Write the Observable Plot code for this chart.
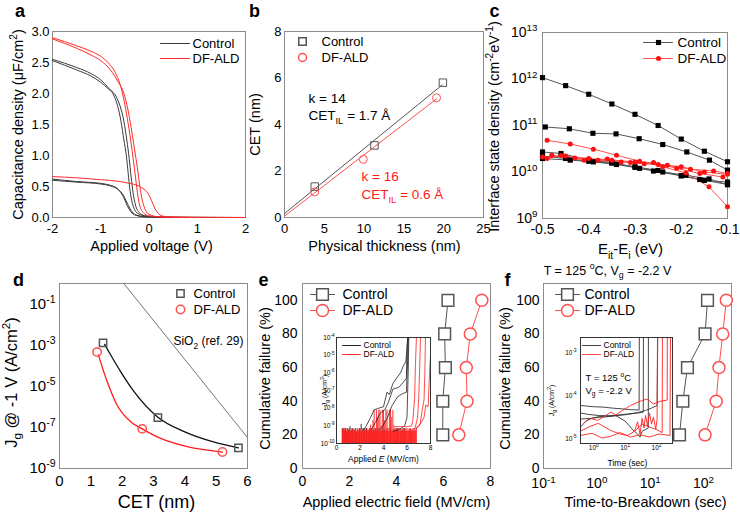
<!DOCTYPE html>
<html><head><meta charset="utf-8">
<script src="https://cdn.jsdelivr.net/npm/d3@7"></script>
<script src="https://cdn.jsdelivr.net/npm/@observablehq/plot@0.6"></script>
<style>
body{margin:0;background:#fff;}
#fig{position:relative;width:740px;height:514px;overflow:hidden;background:#fff;}
#fig svg{position:absolute;overflow:visible;}
</style></head><body><div id="fig"></div>
<script>
// ---------------- shared labels ----------------
const seriesNames = ["Control", "DF-ALD"];

// ---------------- panel a : C-V curves (V, C in uF/cm2) ----------------
const cvCtrlAccA = [[-2,2.55],[-1.5,2.42],[-1.2,2.32],[-1.0,2.22],[-0.85,2.1],[-0.75,2.0],[-0.65,1.8],[-0.58,1.55],[-0.52,1.25],[-0.47,1.0],[-0.43,0.7],[-0.4,0.48],[-0.36,0.28],[-0.3,0.13],[-0.2,0.05],[0,0.015],[0.4,0.005],[0.8,0.002],[2,0]];
const cvCtrlAccB = [[-2,2.53],[-1.5,2.38],[-1.2,2.28],[-1.0,2.18],[-0.85,2.08],[-0.68,1.95],[-0.6,1.8],[-0.52,1.55],[-0.46,1.25],[-0.41,0.95],[-0.37,0.65],[-0.33,0.4],[-0.28,0.2],[-0.2,0.08],[-0.1,0.03],[0.1,0.01],[0.5,0.003],[2,0]];
const cvCtrlInvA = [[-2,0.62],[-1.5,0.58],[-1.0,0.55],[-0.8,0.52],[-0.7,0.49],[-0.62,0.44],[-0.55,0.36],[-0.5,0.28],[-0.45,0.19],[-0.4,0.12],[-0.35,0.07],[-0.25,0.03],[-0.1,0.012],[0.2,0.004],[0.7,0.001],[2,0]];
const cvCtrlInvB = [[-2,0.6],[-1.5,0.57],[-1.0,0.54],[-0.8,0.51],[-0.7,0.48],[-0.62,0.44],[-0.55,0.38],[-0.5,0.31],[-0.45,0.23],[-0.4,0.15],[-0.35,0.09],[-0.25,0.035],[-0.1,0.013],[0.2,0.004],[0.7,0.001],[2,0]];
const cvDfAccA = [[-2,2.9],[-1.5,2.77],[-1.2,2.68],[-1.0,2.6],[-0.85,2.5],[-0.7,2.34],[-0.6,2.15],[-0.52,1.9],[-0.45,1.6],[-0.38,1.25],[-0.32,0.9],[-0.28,0.65],[-0.24,0.4],[-0.2,0.22],[-0.12,0.08],[0,0.025],[0.3,0.006],[0.8,0.002],[2,0]];
const cvDfAccB = [[-2,2.88],[-1.5,2.73],[-1.2,2.62],[-1.0,2.53],[-0.8,2.38],[-0.65,2.2],[-0.52,2.0],[-0.44,1.75],[-0.37,1.45],[-0.3,1.1],[-0.24,0.8],[-0.19,0.5],[-0.14,0.28],[-0.09,0.15],[0,0.05],[0.2,0.012],[0.6,0.003],[2,0]];
const cvDfInv = [[-2,0.66],[-1.5,0.64],[-1.0,0.61],[-0.6,0.58],[-0.4,0.55],[-0.25,0.52],[-0.15,0.48],[-0.05,0.42],[0.02,0.33],[0.08,0.22],[0.14,0.12],[0.2,0.06],[0.3,0.02],[0.5,0.005],[1,0.001],[2,0]];

// ---------------- panel b : CET vs physical thickness ----------------
const thickCtrl = [3.8, 11.3, 19.9];
const cetCtrl = [1.33, 3.1, 5.8];
const thickDf = [3.8, 9.9, 19.1];
const cetDf = [1.1, 2.5, 5.15];
const fitCtrlB = [[0, 0.17], [19.8, 5.7]];
const fitDfB = [[0, 0.06], [19.1, 5.1]];
const annCtrl = ["k = 14", "CET_{IL} = 1.7 Å"];
const annDf = ["k = 16", "CET_{IL} = 0.6 Å"];

// ---------------- panel c : Dit ----------------
const ditCtrl1 = [[-0.5,1.07e12],[-0.45,7.2e11],[-0.4,4.7e11],[-0.35,2.9e11],[-0.3,1.74e11],[-0.25,1.0e11],[-0.2,5.1e10],[-0.15,2.8e10],[-0.1,1.66e10]];
const ditCtrl2 = [[-0.494,9.3e10],[-0.442,8.5e10],[-0.391,6.8e10],[-0.341,6.6e10],[-0.291,5.2e10],[-0.24,3.9e10],[-0.188,2.7e10],[-0.139,1.8e10],[-0.1,1.1e10]];
const ditCtrl3 = [[-0.5,2.7e10],[-0.46,2.5e10],[-0.4,1.8e10],[-0.35,1.6e10],[-0.3,1.26e10],[-0.26,1.05e10],[-0.2,8.3e9],[-0.16,6.9e9],[-0.1,5.4e9]];
const ditCtrl4 = [[-0.5,2.2e10],[-0.45,1.95e10],[-0.4,1.7e10],[-0.35,1.55e10],[-0.3,1.3e10],[-0.25,1.08e10],[-0.2,8.3e9],[-0.15,6.6e9],[-0.1,6.1e9]];
const ditCtrl5 = [[-0.5,1.95e10],[-0.44,1.8e10],[-0.39,1.65e10],[-0.34,1.45e10],[-0.29,1.2e10],[-0.24,1.0e10],[-0.19,8.5e9],[-0.14,7.1e9],[-0.1,5.3e9]];
const ditDf1 = [[-0.49,4.8e10],[-0.44,4.0e10],[-0.39,3.1e10],[-0.34,2.3e10],[-0.29,1.7e10],[-0.24,1.3e10],[-0.19,9.5e9],[-0.14,4.8e9],[-0.1,1.8e9]];
const ditDf2 = [[-0.5,2.1e10],[-0.45,2.2e10],[-0.4,1.95e10],[-0.35,1.8e10],[-0.3,1.65e10],[-0.25,1.45e10],[-0.2,1.3e10],[-0.15,1.0e10],[-0.1,8.9e9]];
const ditDf3 = [[-0.48,2.3e10],[-0.43,2.0e10],[-0.38,1.8e10],[-0.33,1.65e10],[-0.28,1.5e10],[-0.23,1.4e10],[-0.18,1.15e10],[-0.13,1.05e10],[-0.1,9.3e9]];
const ditDf4 = [[-0.49,1.95e10],[-0.46,2.25e10],[-0.41,1.8e10],[-0.36,1.9e10],[-0.31,1.6e10],[-0.26,1.6e10],[-0.21,1.2e10],[-0.16,9.3e9],[-0.11,7.8e9]];

// ---------------- panel d : Jg vs CET ----------------
const cetPtsCtrl = [1.39, 3.14, 5.71];
const jgCtrl = [1.3e-3, 3e-7, 1e-8];
const cetPtsDf = [1.2, 2.64, 5.2];
const jgDf = [4.6e-4, 8.5e-8, 6.3e-9];
const jgFitCtrl = [[1.44,1.1e-3],[1.63,3.4e-4],[1.95,5.2e-5],[2.38,5.5e-6],[3.12,3.3e-7],[3.98,6.2e-8],[4.94,1.9e-8],[5.71,1.0e-8]];
const jgFitDf = [[1.24,3.4e-4],[1.52,1.7e-5],[1.84,1.2e-6],[2.27,1.9e-7],[2.64,8.5e-8],[3.23,2.9e-8],[4.08,1.15e-8],[5.2,6.3e-9]];
const sio2Ref = [[2.0,1.26],[6.0,3.2e-8]];
const sio2Label = "SiO_{2} (ref. 29)";

// ---------------- panel e : breakdown field ----------------
const failPct = [20, 40, 60, 80, 100];
const ebdCtrl = [5.97, 5.97, 6.08, 6.05, 6.19];
const ebdDf = [6.65, 7.0, 6.97, 7.14, 7.63];

// ---------------- panel f : time to breakdown ----------------
const tbdCtrl = [35.5, 41, 50, 107, 119];
const tbdDf = [107, 173, 195, 229, 268];
const stressCond = "T = 125 ^{o}C, V_{g} = -2.2 V";

// ---------------- inset e : Jg-E traces ----------------
const eInCtrl1 = [[2.3,6e-10],[2.5,9e-10],[2.9,3e-9],[3.2,8e-9],[3.6,1e-8],[4.0,1.2e-8],[4.3,8e-8],[4.5,6e-8],[4.8,2.5e-7],[5.2,6e-7],[5.45,1e-6],[5.65,2.2e-6],[5.9,4.2e-6],[6.0,2e-5],[6.05,1e-4]];
const eInCtrl2 = [[3.6,6e-10],[3.9,9e-10],[4.3,2.5e-9],[4.7,1.3e-8],[5.2,4.4e-8],[5.6,6.5e-8],[5.95,8e-8],[6.05,5e-6],[6.1,1e-4]];
const eInCtrl3 = [[4.8,5e-10],[5.3,6e-10],[5.8,1e-9],[6.0,3e-9],[6.1,1e-6],[6.15,1e-4]];
const eInCtrl4 = [[3.0,7e-10],[3.3,1.5e-9],[3.7,5e-9],[4.1,8e-9],[4.4,2e-8],[4.8,1.2e-7],[5.3,1.5e-7],[5.7,3e-7],[5.95,5e-7],[6.0,3e-5],[6.1,1e-4]];
const eInDf1 = [[5.0,9e-10],[6.0,9e-10],[6.4,1e-9],[6.5,2e-9],[6.65,4e-8],[6.72,3e-6],[6.8,1e-4]];
const eInDf2 = [[6.5,6e-10],[6.7,8e-10],[6.9,3e-9],[7.0,4e-8],[7.08,2e-6],[7.15,1e-4]];
const eInDf3 = [[6.7,7e-10],[7.1,1.1e-9],[7.3,8e-9],[7.45,3e-8],[7.52,1e-6],[7.57,1e-4]];
const eInDf4 = [[6.8,7e-10],[7.2,1.5e-9],[7.45,3e-9],[7.6,1.5e-8],[7.8,1.2e-8],[7.92,9e-7],[8.0,1e-5]];
const eInCtrlSpikes = [[0.5,7e-10],[0.55,3e-10],[0.62,7e-10],[0.7,5e-10],[0.78,7e-10],[0.86,4e-10],[0.95,7e-10],[1.05,6e-10],[1.15,9e-10],[1.25,5e-10],[1.35,7e-10],[1.5,6e-10],[1.65,7e-10],[1.8,5e-10],[1.95,7e-10],[2.1,1.2e-9],[2.25,7e-10],[2.4,6e-10],[2.55,7e-10],[2.7,5e-10],[2.85,7e-10],[3.0,7e-10],[3.15,6e-10],[3.3,7e-10],[3.5,7e-10],[3.7,6e-10],[3.9,7e-10],[4.1,6e-10],[4.3,7e-10],[4.6,7e-10],[4.9,6e-10],[5.2,7e-10],[5.5,6e-10],[5.8,7e-10]];
const eInDfSpikes = [[0.5,7e-10],[0.6,6e-10],[0.7,7e-10],[0.8,4e-10],[0.9,7e-10],[1.0,6e-10],[1.1,7e-10],[1.2,5e-10],[1.3,7e-10],[1.4,7e-10],[1.5,6e-10],[1.6,7e-10],[1.7,4e-10],[1.8,7e-10],[1.9,6e-10],[2.0,7e-10],[2.1,7e-10],[2.2,5e-10],[2.3,7e-10],[2.4,6e-10],[2.5,7e-10],[2.6,7e-10],[2.7,6e-10],[2.8,7e-10],[2.9,1.1e-9],[3.0,7e-10],[3.1,2e-9],[3.2,7.7e-9],[3.3,7e-10],[3.4,7.7e-9],[3.5,3e-9],[3.6,7.7e-9],[3.7,7.7e-9],[3.8,1e-9],[3.9,7.7e-9],[4.0,7.7e-9],[4.1,2e-9],[4.2,7.7e-9],[4.3,7.7e-9],[4.4,7e-10],[4.5,7.7e-9],[4.6,7.7e-9],[4.7,3e-9],[4.8,7.7e-9],[4.9,1e-9],[5.0,7e-10],[5.1,7e-10],[5.2,6e-10],[5.3,7e-10],[5.4,7e-10],[5.5,6e-10],[5.6,7e-10],[5.7,7e-10],[5.8,6e-10],[5.9,7e-10],[6.0,7e-10],[6.1,6e-10],[6.2,7e-10],[6.3,7e-10],[6.4,6e-10],[6.5,7e-10],[6.6,7e-10],[6.7,6e-10],[6.8,7e-10]];
const eInDfFloor = [[0.5,5e-10],[6.8,5e-10]];

// ---------------- inset f : Jg-time traces ----------------
const fInCtrl1 = [[0.38,6e-5],[0.6,5.8e-5],[1,5.6e-5],[2,5.5e-5],[4,5.2e-5],[8,5e-5],[15,4.8e-5],[28,4.7e-5],[28.5,2.3e-3]];
const fInCtrl2 = [[0.38,4e-5],[0.7,3.7e-5],[1.5,3.5e-5],[3,3.4e-5],[6,3.6e-5],[12,3.8e-5],[25,4e-5],[38,4.2e-5],[38.5,2.3e-3]];
const fInCtrl3 = [[0.38,2.9e-5],[0.8,3.0e-5],[1.5,3.2e-5],[3,3.3e-5],[6,3.5e-5],[12,3.7e-5],[25,4.1e-5],[45,4.6e-5],[70,5.2e-5],[105,6e-5],[110,2.3e-3]];
const fInCtrl4 = [[0.38,1.9e-5],[0.6,2.7e-5],[1,3.1e-5],[2,3.4e-5],[5,3.5e-5],[10,2.6e-5],[18,1.6e-5],[25,1.3e-5],[30,1.1e-5],[35,1.5e-5],[55,1.8e-5],[55.5,2.3e-3]];
const fInDf1 = [[0.5,2.4e-5],[0.8,3e-5],[1.3,2.7e-5],[2.2,3.3e-5],[3.5,4.2e-5],[5,3.6e-5],[8,4.5e-5],[15,6e-5],[30,7.5e-5],[50,8.5e-5],[80,6.5e-5],[130,7.5e-5],[220,8e-5],[222,2.3e-3]];
const fInDf2 = [[0.38,1.5e-5],[0.7,1.9e-5],[1.4,2.3e-5],[2.5,1.8e-5],[4,1.5e-5],[7,1.3e-5],[12,1.2e-5],[20,1.5e-5],[35,2.2e-5],[60,1.9e-5],[110,1.6e-5],[152,1.4e-5],[155,2.3e-3]];
const fInDf3 = [[0.38,1.2e-5],[0.9,1.35e-5],[1.8,1.05e-5],[3.5,1.15e-5],[7,1.4e-5],[15,1.1e-5],[30,1.25e-5],[60,1.1e-5],[120,1.3e-5],[270,1.2e-5],[280,2.3e-3]];
const fInDf4 = [[20,1.5e-5],[25,2.5e-5],[30,1.3e-5],[35,3e-5],[40,1.8e-5],[45,3.5e-5],[52,2e-5],[60,4e-5],[70,2.2e-5],[80,3.2e-5],[95,1.7e-5],[105,2.8e-5],[108,2.3e-3]];
const insetCond = ["T = 125 ^{o}C", "V_{g} = -2.2 V"];

// ---------------- rendering ----------------
const FONT = '"Liberation Sans", Arial, Helvetica, sans-serif';
const CTRL = "#3a3a3a", CTRL2 = "#555", DF = "#ff2a2a", DF2 = "#ff5050", FRAME = "#8c8c8c";
const fig = document.getElementById("fig");
const sup10 = d => `10^{${Math.round(Math.log10(d))}}`;

function rich(svg) {
  const NS = "http://www.w3.org/2000/svg";
  svg.querySelectorAll("text").forEach(el => {
    const s = el.textContent;
    if (!/[\^_~]\{/.test(s)) return;
    const parts = []; const re = /([\^_~])\{([^}]*)\}/g; let last = 0, m;
    while ((m = re.exec(s))) { if (m.index > last) parts.push(["n", s.slice(last, m.index)]); parts.push([m[1], m[2]]); last = re.lastIndex; }
    if (last < s.length) parts.push(["n", s.slice(last)]);
    while (el.firstChild) el.removeChild(el.firstChild);
    let shift = 0;
    for (const [t, str] of parts) {
      const ts = document.createElementNS(NS, "tspan");
      ts.textContent = str;
      if (t === "n" || t === "~") {
        if (shift) ts.setAttribute("dy", `${-shift}em`);
        shift = 0;
        if (t === "~") ts.setAttribute("font-style", "italic");
      } else {
        const target = t === "^" ? -0.42 : 0.28;
        ts.setAttribute("font-size", "70%");
        ts.setAttribute("dy", `${((target - shift) / 0.7).toFixed(3)}em`);
        shift = target;
      }
      el.appendChild(ts);
    }
  });
}

function panel(c) {
  const xs = (c.x.type === "log" ? d3.scaleLog() : d3.scaleLinear()).domain(c.x.domain).range([c.ml, c.W - c.mr]);
  const ys = (c.y.type === "log" ? d3.scaleLog() : d3.scaleLinear()).domain(c.y.domain).range([c.H - c.mb, c.mt]);
  const P = (px, py) => [xs.invert(px - c.L), ys.invert(py - c.T)];
  const T = (s, px, py, o = {}) => { const p = P(px, py); return Plot.text([s], {x: () => p[0], y: () => p[1], text: d => d, textAnchor: "start", lineAnchor: "middle", fill: "black", ...o}); };
  const L = (px1, px2, py, o = {}) => Plot.line([P(px1, py), P(px2, py)], {strokeWidth: 1, ...o});
  const D = (px, py, o = {}) => Plot.dot([P(px, py)], o);
  const svg = Plot.plot({
    width: c.W, height: c.H,
    marginLeft: c.ml, marginRight: c.mr, marginTop: c.mt, marginBottom: c.mb,
    style: {background: "transparent", overflow: "visible", fontFamily: FONT, fontSize: (c.fs || 13) + "px", color: "black"},
    x: {tickSize: 0, label: null, ...c.x},
    y: {tickSize: 0, label: null, ...c.y},
    marks: c.marks(P, T, L, D)
  });
  svg.style.position = "absolute";
  svg.style.left = c.L + "px";
  svg.style.top = c.T + "px";
  fig.appendChild(svg);
  rich(svg);
}

// ----- a -----
panel({L: 0, T: 0, W: 250, H: 257, ml: 52, mr: 5, mt: 31, mb: 40, fs: 13,
  x: {domain: [-2, 2], ticks: [-2, -1, 0, 1, 2], tickFormat: d => String(d), tickPadding: 6},
  y: {domain: [0, 3], ticks: [0, 0.5, 1, 1.5, 2, 2.5, 3], tickFormat: d => d.toFixed(1), tickPadding: 3},
  marks: (P, T, L, D) => [
    Plot.frame({stroke: FRAME}),
    ...[cvCtrlAccA, cvCtrlAccB, cvCtrlInvA, cvCtrlInvB].map(d => Plot.line(d, {curve: "monotone-x", stroke: CTRL, strokeWidth: 1})),
    ...[cvDfAccA, cvDfAccB, cvDfInv].map(d => Plot.line(d, {curve: "monotone-x", stroke: DF, strokeWidth: 1})),
    L(160, 189, 43, {stroke: CTRL}), L(160, 189, 58, {stroke: DF}),
    T(seriesNames[0], 192, 43, {fontSize: 13}), T(seriesNames[1], 192, 58, {fontSize: 13}),
    T("a", 19.5, 11, {fontSize: 18, fontWeight: "bold", textAnchor: "middle"}),
    T("Applied voltage (V)", 151, 246, {fontSize: 14.5, textAnchor: "middle"}),
    T("Capacitance density (μF/cm^{2})", 18, 124, {fontSize: 14.5, textAnchor: "middle", rotate: -90})
  ]});

// ----- b -----
panel({L: 250, T: 0, W: 240, H: 257, ml: 34, mr: 7, mt: 31, mb: 40, fs: 13,
  x: {domain: [0, 25], ticks: [0, 5, 10, 15, 20, 25], tickFormat: d => String(d), tickPadding: 6},
  y: {domain: [0, 8], ticks: [0, 2, 4, 6, 8], tickFormat: d => String(d), tickPadding: 3},
  marks: (P, T, L, D) => [
    Plot.frame({stroke: FRAME}),
    Plot.line(fitCtrlB, {stroke: CTRL2, strokeWidth: 1}),
    Plot.line(fitDfB, {stroke: DF2, strokeWidth: 1}),
    Plot.dot(d3.zip(thickCtrl, cetCtrl), {symbol: "square", r: 4.2, stroke: CTRL2, strokeWidth: 1, fill: "none"}),
    Plot.dot(d3.zip(thickDf, cetDf), {r: 4, stroke: DF2, strokeWidth: 1, fill: "none"}),
    D(302, 41, {symbol: "square", r: 4.2, stroke: CTRL2, fill: "none"}),
    D(302, 57, {r: 4, stroke: DF2, fill: "none"}),
    T(seriesNames[0], 321, 41, {fontSize: 13}), T(seriesNames[1], 321, 57, {fontSize: 13}),
    T(annCtrl[0], 308, 98, {fontSize: 13.5}), T(annCtrl[1], 308, 115, {fontSize: 13.5}),
    T(annDf[0], 361, 176, {fontSize: 13.5, fill: "#ff1a1a"}), T(annDf[1], 361, 194, {fontSize: 13.5, fill: "#ff1a1a"}),
    T("b", 254, 11, {fontSize: 18, fontWeight: "bold", textAnchor: "middle"}),
    T("Physical thickness (nm)", 384, 246, {fontSize: 14.5, textAnchor: "middle"}),
    T("CET (nm)", 255, 124, {fontSize: 14.5, textAnchor: "middle", rotate: -90})
  ]});

// ----- c -----
panel({L: 490, T: 0, W: 250, H: 257, ml: 52, mr: 13, mt: 32, mb: 39, fs: 14,
  x: {domain: [-0.5, -0.1], ticks: [-0.5, -0.4, -0.3, -0.2, -0.1], tickFormat: d => d.toFixed(1), tickPadding: 6},
  y: {type: "log", domain: [1e9, 1e13], ticks: [1e9, 1e10, 1e11, 1e12, 1e13], tickFormat: sup10, tickPadding: 5},
  marks: (P, T, L, D) => [
    Plot.frame({stroke: FRAME}),
    ...[ditCtrl1, ditCtrl2, ditCtrl3, ditCtrl4, ditCtrl5].map(d => Plot.line(d, {stroke: CTRL2, strokeWidth: 1})),
    ...[ditDf1, ditDf2, ditDf3, ditDf4].map(d => Plot.line(d, {stroke: DF2, strokeWidth: 1})),
    ...[ditCtrl1, ditCtrl2, ditCtrl3, ditCtrl4, ditCtrl5].map(d => Plot.dot(d, {symbol: "square", r: 2.9, fill: "black"})),
    ...[ditDf1, ditDf2, ditDf3, ditDf4].map(d => Plot.dot(d, {r: 2.5, fill: "#ff1010"})),
    L(643, 672, 42, {stroke: CTRL2}), D(658, 42, {symbol: "square", r: 2.9, fill: "black"}),
    L(643, 672, 58, {stroke: DF2}), D(658, 58, {r: 2.5, fill: "#ff1010"}),
    T(seriesNames[0], 677, 42, {fontSize: 13.5}), T(seriesNames[1], 677, 58, {fontSize: 13.5}),
    T("c", 494, 11, {fontSize: 18, fontWeight: "bold", textAnchor: "middle"}),
    T("E_{it}-E_{i} (eV)", 630, 249, {fontSize: 15, textAnchor: "middle"}),
    T("Interface state density (cm^{-2}eV^{-1})", 494, 126, {fontSize: 14.5, textAnchor: "middle", rotate: -90})
  ]});

// ----- d -----
panel({L: 0, T: 257, W: 250, H: 257, ml: 59, mr: 3, mt: 26, mb: 46, fs: 15,
  x: {domain: [0, 6], ticks: [0, 1, 2, 3, 4, 5, 6], tickFormat: d => String(d), tickPadding: 7},
  y: {type: "log", domain: [1e-9, 1], ticks: [1e-9, 1e-7, 1e-5, 1e-3, 1e-1], tickFormat: sup10, tickPadding: 4},
  marks: (P, T, L, D) => [
    Plot.frame({stroke: FRAME}),
    Plot.line(sio2Ref, {stroke: "#666", strokeWidth: 0.9, clip: true}),
    Plot.line(jgFitCtrl, {curve: "monotone-x", stroke: "#111", strokeWidth: 1.3}),
    Plot.line(jgFitDf, {curve: "monotone-x", stroke: "#ff1a1a", strokeWidth: 1.3}),
    Plot.dot(d3.zip(cetPtsCtrl, jgCtrl), {symbol: "square", r: 4.1, stroke: CTRL2, fill: "none"}),
    Plot.dot(d3.zip(cetPtsDf, jgDf), {r: 4.2, stroke: DF2, fill: "none"}),
    D(180, 293, {symbol: "square", r: 4.1, stroke: CTRL2, fill: "none"}),
    D(180, 309, {r: 4.2, stroke: DF2, fill: "none"}),
    T(seriesNames[0], 193, 293, {fontSize: 13}), T(seriesNames[1], 193, 309, {fontSize: 13}),
    T(sio2Label, 243, 341, {fontSize: 12, textAnchor: "end"}),
    T("d", 18, 280, {fontSize: 18, fontWeight: "bold", textAnchor: "middle"}),
    T("CET (nm)", 156, 502, {fontSize: 18, textAnchor: "middle"}),
    T("J_{g} @ -1 V (A/cm^{2})", 11, 382, {fontSize: 16.5, textAnchor: "middle", rotate: -90})
  ]});

// ----- e -----
panel({L: 250, T: 257, W: 245, H: 257, ml: 52, mr: 5, mt: 26, mb: 46, fs: 14,
  x: {domain: [0, 8], ticks: [0, 2, 4, 6, 8], tickFormat: d => String(d), tickPadding: 8},
  y: {domain: [0, 110], ticks: [0, 20, 40, 60, 80, 100], tickFormat: d => String(d), tickPadding: 5},
  marks: (P, T, L, D) => [
    Plot.frame({stroke: FRAME}),
    Plot.line(d3.zip(ebdCtrl, failPct), {stroke: CTRL2, strokeWidth: 1}),
    Plot.line(d3.zip(ebdDf, failPct), {stroke: DF2, strokeWidth: 1}),
    Plot.dot(d3.zip(ebdCtrl, failPct), {symbol: "square", r: 6.6, stroke: CTRL2, fill: "white"}),
    Plot.dot(d3.zip(ebdDf, failPct), {r: 6, stroke: DF2, fill: "white"}),
    L(310, 334, 294, {stroke: CTRL2}), D(322, 294, {symbol: "square", r: 6.6, stroke: CTRL2, fill: "white"}),
    L(310, 334, 310, {stroke: DF2}), D(322, 310, {r: 6, stroke: DF2, fill: "white"}),
    T(seriesNames[0], 342, 294, {fontSize: 14}), T(seriesNames[1], 342, 310, {fontSize: 14}),
    T("e", 263, 280, {fontSize: 18, fontWeight: "bold", textAnchor: "middle"}),
    T("Applied electric field (MV/cm)", 396, 502, {fontSize: 14.5, textAnchor: "middle"}),
    T("Cumulative failure (%)", 265, 378, {fontSize: 14.5, textAnchor: "middle", rotate: -90})
  ]});

// ----- f -----
panel({L: 490, T: 257, W: 250, H: 257, ml: 53, mr: 9, mt: 26, mb: 46, fs: 14,
  x: {type: "log", domain: [0.1, 335], ticks: [0.1, 1, 10, 100], tickFormat: sup10, tickPadding: 10},
  y: {domain: [0, 110], ticks: [0, 20, 40, 60, 80, 100], tickFormat: d => String(d), tickPadding: 4},
  marks: (P, T, L, D) => [
    Plot.frame({stroke: FRAME}),
    Plot.line(d3.zip(tbdCtrl, failPct), {stroke: CTRL2, strokeWidth: 1}),
    Plot.line(d3.zip(tbdDf, failPct), {stroke: DF2, strokeWidth: 1}),
    Plot.dot(d3.zip(tbdCtrl, failPct), {symbol: "square", r: 6.6, stroke: CTRL2, fill: "white"}),
    Plot.dot(d3.zip(tbdDf, failPct), {r: 6, stroke: DF2, fill: "white"}),
    L(555, 579, 294, {stroke: CTRL2}), D(567, 294, {symbol: "square", r: 6.6, stroke: CTRL2, fill: "white"}),
    L(555, 579, 310, {stroke: DF2}), D(567, 310, {r: 6, stroke: DF2, fill: "white"}),
    T(seriesNames[0], 584, 294, {fontSize: 14}), T(seriesNames[1], 584, 310, {fontSize: 14}),
    T("f", 507, 280, {fontSize: 18, fontWeight: "bold", textAnchor: "middle"}),
    T(stressCond, 607, 270, {fontSize: 12.5, textAnchor: "middle"}),
    T("Time-to-Breakdown (sec)", 645, 502, {fontSize: 14.5, textAnchor: "middle"}),
    T("Cumulative failure (%)", 505, 378, {fontSize: 14.5, textAnchor: "middle", rotate: -90})
  ]});

// ----- inset e -----
panel({L: 300, T: 325, W: 140, H: 145, ml: 36, mr: 10, mt: 12, mb: 27, fs: 6.5,
  x: {domain: [0, 8], ticks: [0, 2, 4, 6, 8], tickFormat: d => String(d), tickPadding: 2},
  y: {type: "log", domain: [1e-10, 1e-4], ticks: [1e-10, 1e-9, 1e-8, 1e-7, 1e-6, 1e-5, 1e-4], tickFormat: sup10, tickPadding: 2},
  marks: (P, T, L, D) => [
    Plot.frame({fill: "white"}),
    Plot.ruleX(eInCtrlSpikes, {x: d => d[0], y1: 1e-10, y2: d => d[1], stroke: "#222", strokeWidth: 0.9}),
    Plot.areaY(eInDfFloor, {x: d => d[0], y1: 1e-10, y2: d => d[1], fill: "#ff2020", fillOpacity: 0.8}),
    Plot.ruleX(eInDfSpikes, {x: d => d[0], y1: 1e-10, y2: d => d[1], stroke: "#ff2020", strokeWidth: 0.9}),
    ...[eInCtrl1, eInCtrl2, eInCtrl3, eInCtrl4].map(d => Plot.line(d, {stroke: "#222", strokeWidth: 0.8})),
    ...[eInDf1, eInDf2, eInDf3, eInDf4].map(d => Plot.line(d, {stroke: "#ff2020", strokeWidth: 0.8})),
    Plot.frame({stroke: "#333"}),
    L(342, 360, 345, {stroke: "#222"}), L(342, 360, 354, {stroke: "#ff3030"}),
    T(seriesNames[0], 363, 345, {fontSize: 8.5}), T(seriesNames[1], 363, 354, {fontSize: 8.5}),
    T("Applied ~{E} (MV/cm)", 383, 459, {fontSize: 8.5, textAnchor: "middle"}),
    T("J_{g} (A/cm^{2})", 324, 390, {fontSize: 7, textAnchor: "middle", rotate: -90})
  ]});

// ----- inset f -----
panel({L: 545, T: 325, W: 140, H: 145, ml: 35, mr: 13, mt: 12, mb: 27, fs: 6.5,
  x: {type: "log", domain: [0.38, 325], ticks: [1, 10, 100], tickFormat: sup10, tickPadding: 2},
  y: {type: "log", domain: [7.8e-6, 2.3e-3], ticks: [1e-5, 1e-4, 1e-3], tickFormat: sup10, tickPadding: 4},
  marks: (P, T, L, D) => [
    Plot.frame({fill: "white"}),
    ...[fInCtrl1, fInCtrl2, fInCtrl3, fInCtrl4].map(d => Plot.line(d, {stroke: "#333", strokeWidth: 0.9})),
    ...[fInDf1, fInDf2, fInDf3, fInDf4].map(d => Plot.line(d, {stroke: "#ff2020", strokeWidth: 0.9})),
    Plot.frame({stroke: "#333"}),
    L(582, 600, 345, {stroke: "#444", strokeWidth: 1.2}), L(582, 600, 354, {stroke: "#ff5050", strokeWidth: 1.2}),
    T(seriesNames[0], 603, 345, {fontSize: 8.5}), T(seriesNames[1], 603, 354, {fontSize: 8.5}),
    T(insetCond[0], 585, 377, {fontSize: 9.5}), T(insetCond[1], 585, 390, {fontSize: 9.5}),
    T("Time (sec)", 627, 463, {fontSize: 8.5, textAnchor: "middle"}),
    T("J_{g} (A/cm^{2})", 551, 400, {fontSize: 7, textAnchor: "middle", rotate: -90})
  ]});
</script>
</body></html>
